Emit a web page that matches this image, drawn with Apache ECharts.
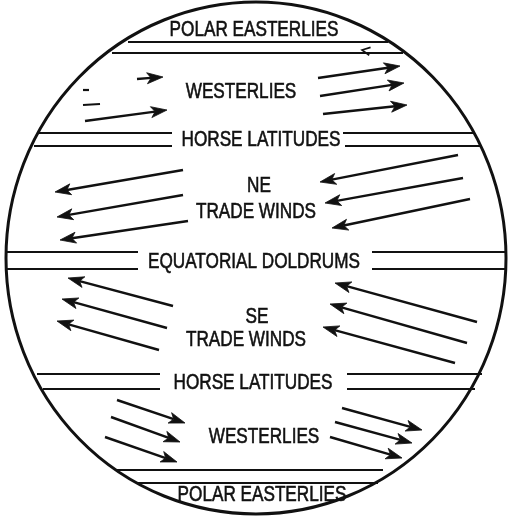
<!DOCTYPE html>
<html><head><meta charset="utf-8">
<script src="https://cdn.jsdelivr.net/npm/echarts@6/dist/echarts.min.js"></script>
<style>html,body{margin:0;padding:0;background:#fff}#c{width:509px;height:516px}</style>
</head><body><div id="c"></div>
<script>
// Globe outline: [centerX, centerY, radiusX, radiusY] in diagram units
const globeOutline = [[256, 258, 250, 256]];

// Zone boundary lines: [xStart, xEnd, y]
const bandLines = [
  [128, 388, 42], [112, 403, 53],
  [38, 172, 133], [343, 475, 133], [34, 172, 146], [345, 482, 146],
  [6, 138, 252], [372, 506, 252], [6, 138, 269], [372, 506, 269],
  [37, 160, 374], [347, 482, 374], [43, 160, 389], [347, 475, 389],
  [115, 383, 470], [138, 378, 483]
];

// Wind arrows: [tailX, tailY, headX, headY]
const westerliesNorth = [
  [318, 78, 400, 66], [320, 96, 404, 83], [323, 114, 407, 105],
  [85, 121, 167, 110], [137, 79, 163, 77]
];
const neTradeWinds = [
  [183, 170, 55, 192], [183, 195, 57, 217], [188, 221, 60, 240],
  [458, 155, 320, 182], [463, 178, 325, 203], [470, 199, 332, 228]
];
const seTradeWinds = [
  [173, 306, 68, 278], [167, 328, 62, 299], [159, 350, 57, 321],
  [477, 322, 335, 283], [467, 343, 330, 304], [455, 363, 323, 327]
];
const westerliesSouth = [
  [117, 400, 185, 423], [111, 417, 180, 442], [105, 437, 177, 462],
  [342, 408, 422, 430], [335, 422, 412, 443], [330, 437, 402, 458]
];
// Faint fragments of a faded arrow: [x1, y1, x2, y2]
const faintStrokes = [[83, 90, 89, 90], [83, 105, 100, 104]];
// Small open arrowhead on polar boundary: [tailX, tailY, headX, headY]
const openArrowHeads = [[374, 52, 362, 50]];

// Labels: [text, x, y]
const zoneLabels = [
  ["POLAR EASTERLIES", 254, 30],
  ["WESTERLIES", 241, 92],
  ["HORSE LATITUDES", 261, 140],
  ["NE", 259, 186],
  ["TRADE WINDS", 256, 212],
  ["EQUATORIAL DOLDRUMS", 254, 262],
  ["SE", 257, 317],
  ["TRADE WINDS", 246, 340],
  ["HORSE LATITUDES", 253, 383],
  ["WESTERLIES", 264, 437],
  ["POLAR EASTERLIES", 262, 495]
];

const INK = '#111111';
const FONT = '"Liberation Sans", Arial, sans-serif';

function arrowItem(params, api) {
  const p1 = api.coord([api.value(0), api.value(1)]);
  const p2 = api.coord([api.value(2), api.value(3)]);
  const dx = p2[0] - p1[0], dy = p2[1] - p1[1];
  const L = Math.hypot(dx, dy) || 1;
  const ux = dx / L, uy = dy / L, nx = -uy, ny = ux;
  const hl = 16, hw = 5.5;
  const bx = p2[0] - ux * hl, by = p2[1] - uy * hl;
  const notch = [p2[0] - ux * hl * 0.75, p2[1] - uy * hl * 0.75];
  return {
    type: 'group',
    children: [
      { type: 'line', shape: { x1: p1[0], y1: p1[1], x2: notch[0], y2: notch[1] },
        style: { stroke: INK, lineWidth: 2.4 } },
      { type: 'polygon', shape: { points: [p2, [bx + nx * hw, by + ny * hw], notch, [bx - nx * hw, by - ny * hw]] },
        style: { fill: INK, stroke: INK, lineWidth: 0.8 } }
    ]
  };
}

function openHeadItem(params, api) {
  const p1 = api.coord([api.value(0), api.value(1)]);
  const p2 = api.coord([api.value(2), api.value(3)]);
  const dx = p2[0] - p1[0], dy = p2[1] - p1[1];
  const L = Math.hypot(dx, dy) || 1;
  const ux = dx / L, uy = dy / L, nx = -uy, ny = ux;
  const hl = 8, hw = 4;
  const bx = p2[0] - ux * hl, by = p2[1] - uy * hl;
  return {
    type: 'polyline',
    shape: { points: [[bx + nx * hw, by + ny * hw], p2, [bx - nx * hw, by - ny * hw]] },
    style: { stroke: INK, lineWidth: 1.6, fill: null }
  };
}

function segItem(params, api) {
  const p1 = api.coord([api.value(0), api.value(1)]);
  const p2 = api.coord([api.value(2), api.value(3)]);
  return { type: 'line', shape: { x1: p1[0], y1: p1[1], x2: p2[0], y2: p2[1] },
    style: { stroke: INK, lineWidth: 2.2 } };
}

const arrowSeries = (data) => ({
  type: 'custom', renderItem: arrowItem, data: data,
  encode: { x: [0, 2], y: [1, 3] }, silent: true, animation: false
});

const chart = echarts.init(document.getElementById('c'), null, { renderer: 'canvas' });
chart.setOption({
  backgroundColor: '#ffffff',
  animation: false,
  grid: { left: 0, right: 0, top: 0, bottom: 0 },
  xAxis: { type: 'value', min: 0, max: 509, show: false },
  yAxis: { type: 'value', min: 0, max: 516, inverse: true, show: false },
  series: [
    {
      type: 'custom', silent: true, data: globeOutline,
      renderItem(params, api) {
        const c = api.coord([api.value(0), api.value(1)]);
        const s = api.size([api.value(2), api.value(3)]);
        return {
          type: 'circle', x: c[0], y: c[1], scaleY: s[1] / s[0],
          shape: { cx: 0, cy: 0, r: s[0] },
          style: { fill: null, stroke: INK, lineWidth: 3 }
        };
      }
    },
    {
      type: 'custom', silent: true, data: bandLines,
      renderItem(params, api) {
        const a = api.coord([api.value(0), api.value(2)]);
        const b = api.coord([api.value(1), api.value(2)]);
        return { type: 'line', shape: { x1: a[0], y1: a[1], x2: b[0], y2: b[1] },
          style: { stroke: INK, lineWidth: 2.2 } };
      }
    },
    arrowSeries(westerliesNorth),
    arrowSeries(neTradeWinds),
    arrowSeries(seTradeWinds),
    arrowSeries(westerliesSouth),
    { type: 'custom', silent: true, renderItem: segItem, data: faintStrokes },
    { type: 'custom', silent: true, renderItem: openHeadItem, data: openArrowHeads },
    {
      type: 'custom', silent: true, data: zoneLabels.map(d => [d[1], d[2]]),
      encode: { x: 0, y: 1 },
      renderItem(params, api) {
        const p = api.coord([api.value(0), api.value(1)]);
        return {
          type: 'text', x: p[0], y: p[1], scaleX: 0.78,
          style: {
            text: zoneLabels[params.dataIndex][0],
            fontFamily: FONT, fontSize: 22,
            fill: INK, stroke: INK, lineWidth: 0.6,
            align: 'center', verticalAlign: 'middle'
          }
        };
      }
    }
  ]
});
</script></body></html>
